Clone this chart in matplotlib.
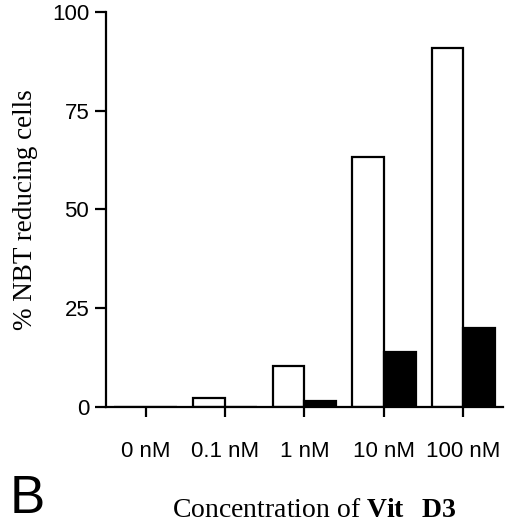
import numpy as np
import matplotlib
matplotlib.use("Agg")
import matplotlib.pyplot as plt

# data
conc = ["0 nM", "0.1 nM", "1 nM", "10 nM", "100 nM"]
open_bars = [0, 2.2, 10.4, 63.2, 90.9]
filled_bars = [0, 0, 1.6, 13.9, 20.0]
yticks = [0, 25, 50, 75, 100]

plt.rcParams["mathtext.fontset"] = "custom"
plt.rcParams["mathtext.rm"] = "Liberation Serif"
plt.rcParams["mathtext.bf"] = "Liberation Serif:bold"

fig = plt.figure(figsize=(5.2, 5.25), dpi=100)
ax = fig.add_axes([0.2038, 0.2248, 0.7635, 0.7524])

x = np.arange(len(conc))
w = 0.4
ax.bar(x - w, open_bars, w, align="edge", facecolor="white",
       edgecolor="black", linewidth=1.6)
ax.bar(x, filled_bars, w, align="edge", facecolor="black",
       edgecolor="black", linewidth=1.6)

ax.set_xlim(-0.5, 4.5)
ax.set_ylim(0, 100)
ax.set_xticks(x)
ax.set_xticklabels(conc, fontfamily="Liberation Sans", fontsize=16)
ax.set_yticks(yticks)
ax.set_yticklabels([str(v) for v in yticks], fontfamily="Liberation Sans",
                   fontsize=16)

for s in ["top", "right"]:
    ax.spines[s].set_visible(False)
for s in ["left", "bottom"]:
    ax.spines[s].set_linewidth(1.6)
ax.tick_params(axis="x", direction="out", length=7.5, width=1.6, pad=17)
ax.tick_params(axis="y", direction="out", length=8, width=1.6, pad=4)

ax.set_ylabel("% NBT reducing cells", fontfamily="Liberation Serif",
              fontsize=19.5, labelpad=10)
fig.text(0.604, 0.004, r"Concentration of $\mathbf{Vit\ \ D3}$",
         fontfamily="Liberation Serif", fontsize=20, ha="center",
         va="bottom")
fig.text(0.018, 0.002, "B", fontfamily="Liberation Sans", fontsize=38,
         ha="left", va="bottom")

fig.savefig("out.png", dpi=100)
